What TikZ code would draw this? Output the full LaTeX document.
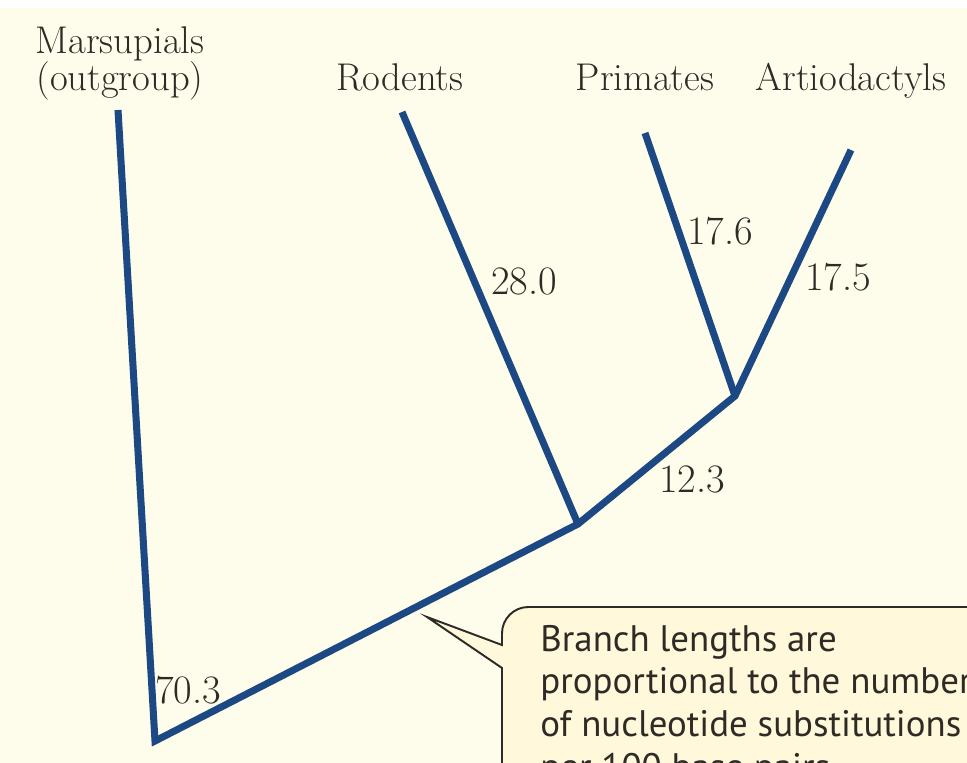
\documentclass[tikz,border=0pt]{standalone}
\usepackage{fontspec}
\newfontfamily\notefont{PT Sans}
\usetikzlibrary{calc}

\definecolor{paper}{HTML}{FEFDEB}
\definecolor{notefill}{HTML}{FFF8DA}
\definecolor{treeblue}{RGB}{28,72,132}
\definecolor{inkgray}{HTML}{2E2B26}

\tikzset{
  branch/.style={line width=4pt, color=treeblue, line join=miter},
  taxon/.style={inner sep=0pt, anchor=base, color=inkgray, font=\fontsize{22}{21.6}\selectfont},
  blen/.style={inner sep=0pt, anchor=base, color=inkgray, font=\fontsize{23}{24}\selectfont},
}

\begin{document}
\begin{tikzpicture}[x=0.02cm, y=-0.02cm]
			%%%%% START %%%%%
			\clip (0, 0) rectangle (967, 763);
			\useasboundingbox (0, 0) rectangle (967, 763);
			\fill[white] (0, 0) rectangle (967, 763);
			\fill[paper] (0, 8) rectangle (967, 763);
			
			% taxa
			\node[taxon, align=center] (mars) at (120, 91) {Marsupials\\(outgroup)};
			\node[taxon] (rod) at (400, 91) {Rodents};
			\node[taxon] (prim) at (645, 91) {Primates};
			\node[taxon] (artio) at (851, 91) {Artiodactyls};
			
			% tree
			\coordinate (marsTip) at (118, 110);
			\coordinate (rodTip) at (402, 112);
			\coordinate (primTip) at (645, 133);
			\coordinate (artioTip) at (851, 150);
			\coordinate (root) at (155, 741);
			\coordinate (rodJoin) at (578, 524);
			\coordinate (primJoin) at (735, 396);
			
			\draw[branch] (marsTip) -- (root) -- (rodJoin) -- (primJoin) -- (artioTip);
			\draw[branch] (rodTip) -- (rodJoin);
			\draw[branch] (primTip) -- (primJoin);
			
			% branch lengths
			\node[blen] (lPrim) at (720, 245) {17.6};
			\node[blen] (lArtio) at (838, 291) {17.5};
			\node[blen] (lRod) at (524, 295) {28.0};
			\node[blen] (lInner) at (692, 492) {12.3};
			\node[blen] (lMars) at (188, 703) {70.3};
			
			% callout
			\coordinate (tip) at (427, 617);
			\draw[line width=1.1pt, color=inkgray, fill=notefill]
				(502, 800) -- (502, 668) -- (tip) -- (502, 645)
				[rounded corners=15] -- (502, 607) -- (1000, 607) [sharp corners] -- (1000, 800) -- cycle;
			\node[inner sep=0pt, anchor=north west, align=left, color=inkgray,
				font=\notefont\fontsize{21}{24.2}\selectfont] (note) at (540, 625)
				{Branch lengths are\\proportional to the number\\of nucleotide substitutions\\per 100 base pairs};
			
			%%%%% END %%%%%
\end{tikzpicture}
\end{document}
